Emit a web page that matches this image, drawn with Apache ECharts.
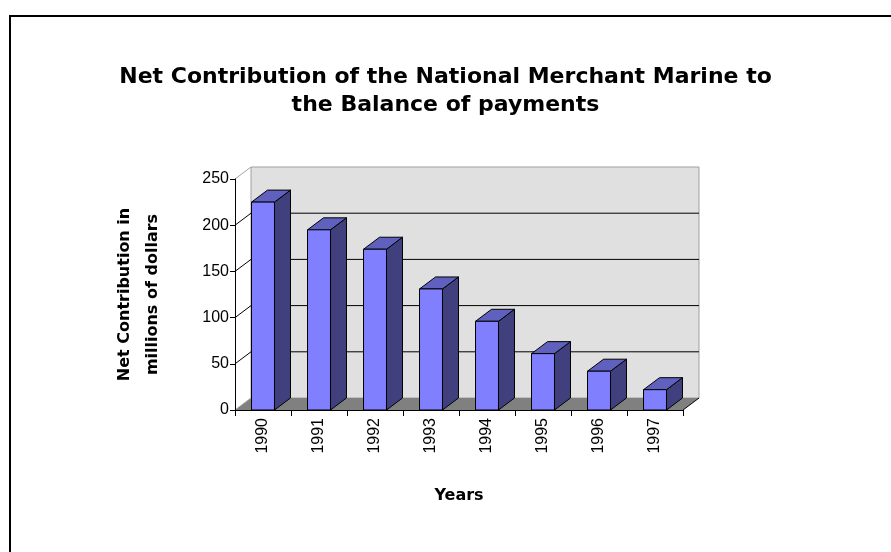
<!DOCTYPE html>
<html>
<head>
<meta charset="utf-8">
<title>Net Contribution of the National Merchant Marine</title>
<script src="https://cdn.jsdelivr.net/npm/echarts@6/dist/echarts.min.js"></script>
<style>
  html, body { margin: 0; padding: 0; background: #fff; }
  #chart { width: 891px; height: 552px; }
</style>
</head>
<body>
<div id="chart"></div>
<script>
// data
const years = ['1990', '1991', '1992', '1993', '1994', '1995', '1996', '1997']
const contribution = [225, 195, 174, 131, 96, 61, 42, 22]
const valueTicks = [0, 50, 100, 150, 200, 250]

// 3d depth offset (pixels)
const DX = 16
const DY = -12
const BAR_RATIO = 0.41

const chart = echarts.init(document.getElementById('chart'))

// walls, floor and back gridlines
const renderWalls = (params, api) => {
  const cs = params.coordSys
  const L = cs.x
  const R = cs.x + cs.width
  const T = cs.y
  const B = cs.y + cs.height
  const children = [
    {
      type: 'polygon',
      shape: { points: [[L + DX, T + DY], [R + DX, T + DY], [R + DX, B + DY], [L + DX, B + DY]] },
      style: { fill: '#e0e0e0', stroke: '#a0a0a0', lineWidth: 1 },
    },
    {
      type: 'polygon',
      shape: { points: [[L, B], [R, B], [R + DX, B + DY], [L + DX, B + DY]] },
      style: { fill: '#808080', stroke: null },
    },
    {
      type: 'line',
      shape: { x1: R, y1: B, x2: R + DX, y2: B + DY },
      style: { stroke: '#000', lineWidth: 1 },
    },
  ]
  valueTicks.forEach((v, i) => {
    const y = api.coord([0, v])[1]
    const edge = i === 0 || i === valueTicks.length - 1
    children.push({
      type: 'line',
      shape: { x1: L, y1: y, x2: L + DX, y2: y + DY },
      style: { stroke: edge ? '#a0a0a0' : '#000', lineWidth: 1 },
    })
    if (!edge) {
      children.push({
        type: 'line',
        shape: { x1: L + DX, y1: y + DY, x2: R + DX, y2: y + DY },
        style: { stroke: '#000', lineWidth: 1 },
      })
    }
  })
  return { type: 'group', children }
}

// one 3d column
const renderBar = (params, api) => {
  const top = api.coord([api.value(0), api.value(1)])
  const base = api.coord([api.value(0), 0])
  const w = api.size([1, 0])[0] * BAR_RATIO
  const x0 = top[0] - w / 2
  const x1 = top[0] + w / 2
  const yT = top[1]
  const yB = base[1]
  const edge = { stroke: '#000', lineWidth: 1, lineJoin: 'round' }
  return {
    type: 'group',
    children: [
      {
        type: 'polygon',
        shape: { points: [[x1, yT], [x1 + DX, yT + DY], [x1 + DX, yB + DY], [x1, yB]] },
        style: Object.assign({ fill: '#40407f' }, edge),
      },
      {
        type: 'polygon',
        shape: { points: [[x0, yT], [x0 + DX, yT + DY], [x1 + DX, yT + DY], [x1, yT]] },
        style: Object.assign({ fill: '#6060bf' }, edge),
      },
      {
        type: 'rect',
        shape: { x: x0, y: yT, width: w, height: yB - yT },
        style: Object.assign({ fill: '#8080ff' }, edge),
      },
    ],
  }
}

const option = {
  animation: false,
  title: {
    text: 'Net Contribution of the National Merchant Marine to\nthe Balance of payments',
    left: 'center',
    top: 58,
    textStyle: {
      fontFamily: 'DejaVu Sans',
      fontWeight: 'bold',
      fontSize: 22,
      lineHeight: 28,
      color: '#000',
    },
  },
  graphic: [
    {
      type: 'rect',
      shape: { x: 10, y: 16, width: 900, height: 560 },
      style: { fill: null, stroke: '#000', lineWidth: 2 },
      silent: true,
    },
  ],
  grid: {
    left: 235,
    right: 208,
    top: 179,
    bottom: 142,
  },
  xAxis: {
    type: 'category',
    data: years,
    z: 5,
    name: 'Years',
    nameLocation: 'middle',
    nameGap: 78,
    nameTextStyle: {
      fontFamily: 'DejaVu Sans',
      fontWeight: 'bold',
      fontSize: 16,
      color: '#000',
    },
    axisLine: { lineStyle: { color: '#000', width: 1 } },
    axisTick: { show: true, length: 6, lineStyle: { color: '#000' } },
    axisLabel: {
      interval: 0,
      rotate: 90,
      margin: 8,
      fontFamily: 'Liberation Sans',
      fontSize: 16,
      color: '#000',
    },
  },
  yAxis: {
    type: 'value',
    min: 0,
    max: 250,
    interval: 50,
    z: 5,
    name: 'Net Contribution in\nmillions of dollars',
    nameLocation: 'middle',
    nameRotate: 90,
    nameGap: 68,
    nameTextStyle: {
      fontFamily: 'DejaVu Sans',
      fontWeight: 'bold',
      fontSize: 16,
      lineHeight: 28,
      color: '#000',
    },
    axisLine: { show: true, lineStyle: { color: '#000', width: 1 } },
    axisTick: { show: true, length: 5, lineStyle: { color: '#000' } },
    axisLabel: {
      margin: 6,
      fontFamily: 'Liberation Sans',
      fontSize: 16,
      color: '#000',
    },
    splitLine: { show: false },
  },
  series: [
    {
      type: 'custom',
      name: 'walls',
      silent: true,
      z: 1,
      data: [[0, 0]],
      renderItem: renderWalls,
    },
    {
      type: 'custom',
      name: 'Net contribution',
      z: 2,
      data: contribution.map((v, i) => [i, v]),
      encode: { x: 0, y: 1 },
      renderItem: renderBar,
    },
  ],
}

chart.setOption(option)
</script>
</body>
</html>
